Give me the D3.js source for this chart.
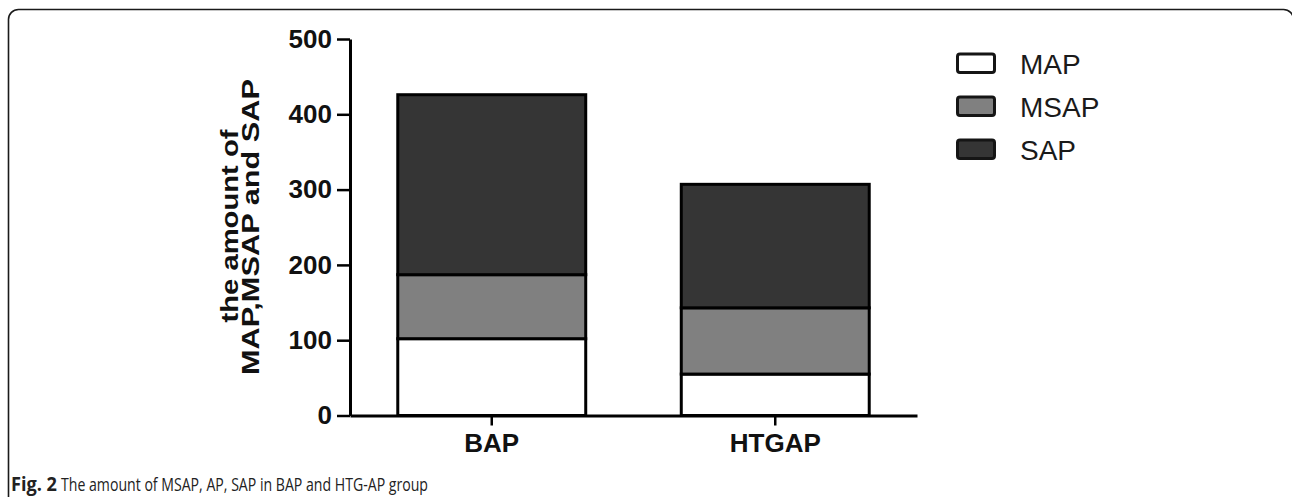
<!DOCTYPE html>
<html>
<head>
<meta charset="utf-8">
<script src="https://cdn.jsdelivr.net/npm/d3@7"></script>
<style>
  html, body { margin: 0; padding: 0; background: #fff; }
  svg { display: block; }
</style>
</head>
<body>
<svg id="chart" width="1292" height="497"></svg>
<script>
// ---- data ----
const categories = ["BAP", "HTGAP"];
const seriesNames = ["MAP", "MSAP", "SAP"];
const mapValues = [102, 55];
const msapValues = [85, 88];
const sapValues = [239, 164];
const yTicks = [0, 100, 200, 300, 400, 500];
const yTitleLines = ["the amount of", "MAP,MSAP and SAP"];
const captionBold = "Fig. 2";
const captionText = "The amount of MSAP, AP, SAP in BAP and HTG-AP group";

const colors = { MAP: "#ffffff", MSAP: "#808080", SAP: "#353535" };

const rows = categories.map((c, i) => ({
  cat: c, MAP: mapValues[i], MSAP: msapValues[i], SAP: sapValues[i]
}));
const stacked = d3.stack().keys(seriesNames)(rows);

const svg = d3.select("#chart");

// frame
svg.append("rect")
  .attr("x", 8.5).attr("y", 9.5)
  .attr("width", 1285).attr("height", 520)
  .attr("rx", 10).attr("ry", 10)
  .attr("fill", "none").attr("stroke", "#1a1a1a").attr("stroke-width", 1.6);

const x = d3.scaleBand().domain(categories).range([350, 917])
  .paddingInner(0.337).paddingOuter(0.1685);
const y = d3.scaleLinear().domain([0, 500]).range([415.5, 39]);

// bars
const g = svg.append("g");
g.selectAll("g.layer").data(stacked).join("g")
  .attr("class", "layer")
  .attr("fill", d => colors[d.key])
  .selectAll("rect").data(d => d).join("rect")
  .attr("x", d => x(d.data.cat))
  .attr("width", x.bandwidth())
  .attr("y", d => y(d[1]))
  .attr("height", d => y(d[0]) - y(d[1]))
  .attr("stroke", "#000").attr("stroke-width", 3);

// x axis
const xAxis = svg.append("g")
  .attr("transform", "translate(0,415.5)")
  .call(d3.axisBottom(x).tickSize(10).tickSizeOuter(0).tickPadding(8.5));
xAxis.select(".domain").attr("stroke", "#000").attr("stroke-width", 3);
xAxis.selectAll(".tick line").attr("stroke", "#000").attr("stroke-width", 2.5);
xAxis.selectAll(".tick text")
  .attr("font-family", "Liberation Sans, Arial, sans-serif")
  .attr("font-weight", "bold").attr("font-size", 26).attr("fill", "#111");

// y axis
const yAxis = svg.append("g")
  .attr("transform", "translate(350,0)")
  .call(d3.axisLeft(y).tickValues(yTicks).tickSize(13).tickSizeOuter(0).tickPadding(5));
yAxis.select(".domain").attr("stroke", "#000").attr("stroke-width", 3);
yAxis.selectAll(".tick line").attr("stroke", "#000").attr("stroke-width", 2.5);
yAxis.selectAll(".tick text")
  .attr("font-family", "Liberation Sans, Arial, sans-serif")
  .attr("font-weight", "bold").attr("font-size", 26).attr("fill", "#111");

// y title
const titlePos = [
  { x: 237.5, y: 226, len: 193 },
  { x: 258.5, y: 227, len: 296 }
];
yTitleLines.forEach((t, i) => {
  svg.append("text")
    .attr("transform", `translate(${titlePos[i].x},${titlePos[i].y}) rotate(-90)`)
    .attr("text-anchor", "middle")
    .attr("font-family", "Liberation Sans, Arial, sans-serif")
    .attr("font-weight", "bold").attr("font-size", 23)
    .attr("textLength", titlePos[i].len)
    .attr("lengthAdjust", "spacingAndGlyphs")
    .attr("fill", "#111")
    .text(t);
});

// legend
const legend = svg.append("g");
seriesNames.forEach((s, i) => {
  const yy = 54 + i * 43;
  legend.append("rect")
    .attr("x", 957.5).attr("y", yy).attr("width", 37).attr("height", 18.5)
    .attr("rx", 2.5)
    .attr("fill", colors[s]).attr("stroke", "#151515").attr("stroke-width", 3);
  legend.append("text")
    .attr("x", 1020).attr("y", yy + 19.5)
    .attr("font-family", "Liberation Sans, Arial, sans-serif")
    .attr("font-size", 28).attr("fill", "#1a1a1a")
    .text(s);
});

// caption
svg.append("text")
  .attr("x", 11).attr("y", 491)
  .attr("font-family", "Open Sans, sans-serif")
  .attr("font-weight", "bold").attr("font-size", 19)
  .attr("textLength", 46).attr("lengthAdjust", "spacingAndGlyphs")
  .attr("fill", "#222")
  .text(captionBold);
svg.append("text")
  .attr("x", 61).attr("y", 491)
  .attr("font-family", "Open Sans, sans-serif")
  .attr("font-size", 19)
  .attr("textLength", 367).attr("lengthAdjust", "spacingAndGlyphs")
  .attr("fill", "#222")
  .text(captionText);
</script>
</body>
</html>
